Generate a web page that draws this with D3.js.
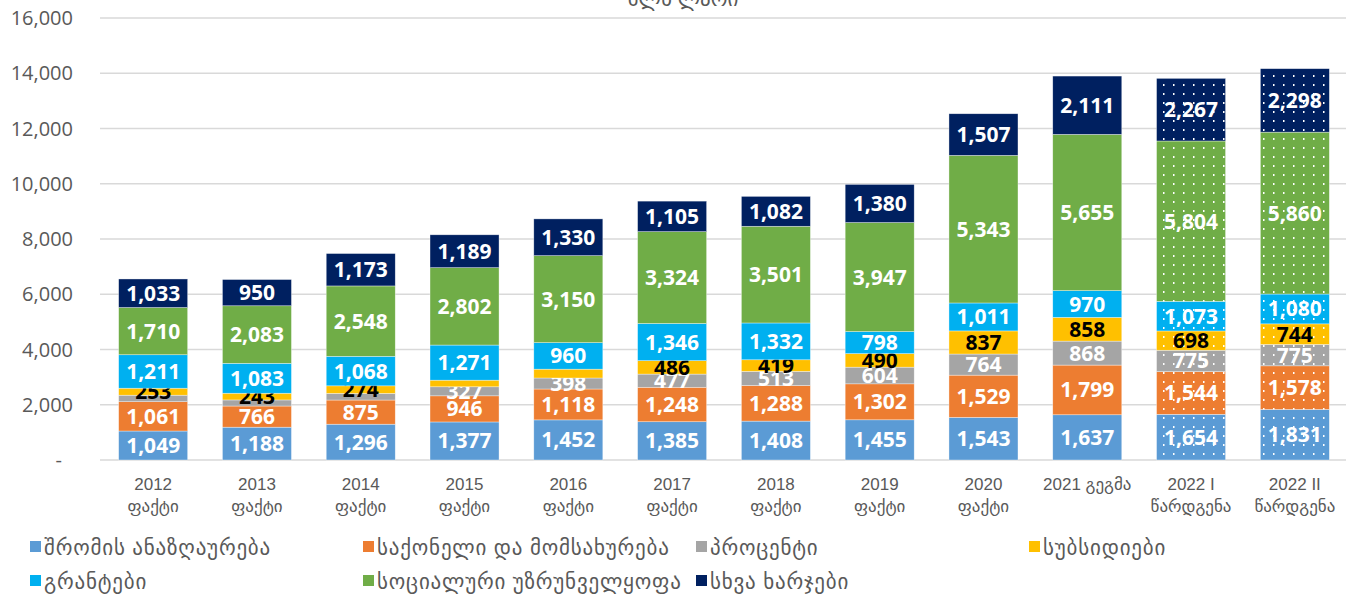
<!DOCTYPE html>
<html>
<head>
<meta charset="utf-8">
<script src="https://cdn.jsdelivr.net/npm/d3@7"></script>
<style>
  body { margin: 0; background: #fff; }
  svg { display: block; }
</style>
</head>
<body>
<svg id="chart" width="1360" height="596"></svg>
<script>
// categories (two lines each)
const categories = [
  ["2012", "ფაქტი"], ["2013", "ფაქტი"], ["2014", "ფაქტი"], ["2015", "ფაქტი"],
  ["2016", "ფაქტი"], ["2017", "ფაქტი"], ["2018", "ფაქტი"], ["2019", "ფაქტი"],
  ["2020", "ფაქტი"], ["2021 გეგმა"], ["2022 I", "წარდგენა"], ["2022 II", "წარდგენა"]
];

const seriesNames = [
  "შრომის ანაზღაურება", "საქონელი და მომსახურება", "პროცენტი", "სუბსიდიები",
  "გრანტები", "სოციალური უზრუნველყოფა", "სხვა ხარჯები"
];
const seriesColors = ["#5b9bd5", "#ed7d31", "#a5a5a5", "#ffc000", "#00b0f0", "#70ad47", "#002060"];

const wages     = [1049, 1188, 1296, 1377, 1452, 1385, 1408, 1455, 1543, 1637, 1654, 1831];
const goods     = [1061, 766, 875, 946, 1118, 1248, 1288, 1302, 1529, 1799, 1544, 1578];
const interest  = [236, 220, 240, 327, 398, 477, 513, 604, 764, 868, 775, 775];
const subsidies = [253, 243, 274, 240, 320, 486, 419, 490, 837, 858, 698, 744];
const grants    = [1211, 1083, 1068, 1271, 960, 1346, 1332, 798, 1011, 970, 1073, 1080];
const social    = [1710, 2083, 2548, 2802, 3150, 3324, 3501, 3947, 5343, 5655, 5804, 5860];
const other     = [1033, 950, 1173, 1189, 1330, 1105, 1082, 1380, 1507, 2111, 2267, 2298];

const yTicks = [0, 2000, 4000, 6000, 8000, 10000, 12000, 14000, 16000];

// labels not shown in the original (series index -> category indexes)
const hiddenLabels = {2: [0, 1, 2], 3: [3, 4]};
// bars drawn with dotted pattern (projections)
const patterned = [10, 11];

const allSeries = [wages, goods, interest, subsidies, grants, social, other];

const svg = d3.select("#chart");
const numFont = "'Open Sans', 'DejaVu Sans', sans-serif";
const textFont = "'Liberation Sans', 'DejaVu Sans', sans-serif";

const x = d3.scaleBand().domain(d3.range(categories.length)).range([101, 1347]).paddingInner(0.335).paddingOuter(0.17);
const y = d3.scaleLinear().domain([0, 16000]).range([460, 18]);

// dotted pattern
const defs = svg.append("defs");
const pat = defs.append("pattern").attr("id", "dots")
  .attr("patternUnits", "userSpaceOnUse").attr("width", 10).attr("height", 9);
pat.append("rect").attr("x", 3).attr("y", 3).attr("width", 1.5).attr("height", 2).attr("fill", "#fff");

// title (cut off at the top)
svg.append("text").attr("x", 683).attr("y", 6).attr("text-anchor", "middle")
  .attr("font-family", textFont).attr("font-size", 21).attr("fill", "#595959")
  .text("მლნ ლარი");

// grid + y labels
svg.append("g").selectAll("line").data(yTicks).join("line")
  .attr("x1", 100).attr("x2", 1346)
  .attr("y1", d => y(d)).attr("y2", d => y(d))
  .attr("stroke", "#d9d9d9").attr("stroke-width", 1.5);

svg.append("g").selectAll("text").data(yTicks).join("text")
  .attr("x", d => d === 0 ? 62 : 73)
  .attr("y", d => y(d) + 7)
  .attr("text-anchor", "end")
  .attr("font-family", numFont).attr("font-size", 20).attr("fill", "#595959")
  .text(d => d === 0 ? "-" : d3.format(",")(d));

// stacked data
const table = categories.map((c, i) => {
  const row = {i: i};
  allSeries.forEach((s, k) => row[k] = s[i]);
  return row;
});
const stack = d3.stack().keys(d3.range(allSeries.length))(table);

const layers = svg.append("g").selectAll("g").data(stack).join("g");

layers.selectAll("rect.seg").data(d => d).join("rect")
  .attr("class", "seg")
  .attr("x", d => x(d.data.i))
  .attr("width", x.bandwidth())
  .attr("y", d => y(d[1]))
  .attr("height", d => y(d[0]) - y(d[1]))
  .attr("fill", function(d) { return seriesColors[d3.select(this.parentNode).datum().key]; })
  .attr("stroke", "#ffffff").attr("stroke-opacity", 0.6).attr("stroke-width", 0.6);

// pattern overlay
layers.selectAll("rect.pat").data(d => d.filter(v => patterned.includes(v.data.i))).join("rect")
  .attr("class", "pat")
  .attr("x", d => x(d.data.i))
  .attr("width", x.bandwidth())
  .attr("y", d => y(d[1]))
  .attr("height", d => y(d[0]) - y(d[1]))
  .attr("fill", "url(#dots)");

// value labels
layers.each(function(layer) {
  const k = layer.key;
  const hide = hiddenLabels[k] || [];
  d3.select(this).selectAll("text").data(layer.filter(d => !hide.includes(d.data.i))).join("text")
    .attr("x", d => x(d.data.i) + x.bandwidth() / 2)
    .attr("y", d => (y(d[0]) + y(d[1])) / 2 + 7.5)
    .attr("text-anchor", "middle")
    .attr("font-family", numFont).attr("font-weight", "bold").attr("font-size", 21)
    .attr("fill", k === 3 ? "#000" : "#fff")
    .text(d => d3.format(",")(d[1] - d[0]));
});

// x labels
const xl = svg.append("g").selectAll("text").data(categories).join("text")
  .attr("x", (d, i) => x(i) + x.bandwidth() / 2)
  .attr("y", 490)
  .attr("text-anchor", "middle")
  .attr("font-family", textFont).attr("font-size", 17).attr("fill", "#595959");
xl.selectAll("tspan").data(d => d).join("tspan")
  .attr("x", function() { return d3.select(this.parentNode).attr("x"); })
  .attr("dy", (d, j) => j === 0 ? 0 : 22)
  .text(d => d);

// legend
const legend = svg.append("g").selectAll("g").data(seriesNames).join("g")
  .attr("transform", (d, i) => `translate(${30 + (i % 4) * 333},${i < 4 ? 547 : 581})`);
legend.append("rect").attr("x", 0).attr("y", -6).attr("width", 11).attr("height", 11)
  .attr("fill", (d, i) => seriesColors[i]);
legend.append("text").attr("x", 14).attr("y", 8)
  .attr("font-family", textFont).attr("font-size", 21).attr("letter-spacing", 0.8).attr("fill", "#595959")
  .text(d => d);
</script>
</body>
</html>
